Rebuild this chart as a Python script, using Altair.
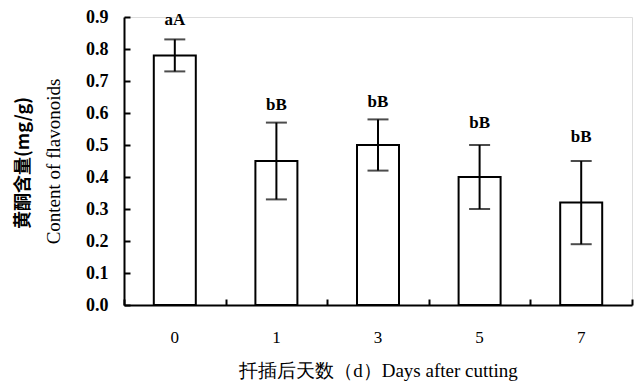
import altair as alt
import pandas as pd

days = ["0", "1", "3", "5", "7"]
means = [0.78, 0.45, 0.50, 0.40, 0.32]
err_low = [0.73, 0.33, 0.42, 0.30, 0.19]
err_high = [0.83, 0.57, 0.58, 0.50, 0.45]
letters = ["aA", "bB", "bB", "bB", "bB"]
label_pos = [0.89, 0.625, 0.634, 0.569, 0.525]

df = pd.DataFrame({
    "day": days, "mean": means, "lo": err_low, "hi": err_high,
    "letter": letters, "lpos": label_pos,
})

SERIF = "Liberation Serif"
xscale = alt.Scale(domain=days, paddingInner=0, paddingOuter=0)
yscale = alt.Scale(domain=[0, 0.9], nice=False, zero=True)
yticks = [i / 10 for i in range(10)]

base = alt.Chart(df)

bars = base.mark_bar(size=42, fill="white", stroke="black", strokeWidth=2).encode(
    x=alt.X("day:N", scale=xscale, sort=days, axis=alt.Axis(
        orient="bottom", title="扦插后天数（d）Days after cutting",
        labelAngle=0, labelFont=SERIF, labelFontSize=17, labelColor="black",
        labelPadding=24, ticks=False, domainColor="black", domainWidth=2,
        titleFont=SERIF, titleFontSize=19, titleFontWeight="normal",
        titleColor="black", titlePadding=16)),
    y=alt.Y("mean:Q", scale=yscale, axis=alt.Axis(
        orient="left", title="Content of flavonoids", values=yticks,
        format=".1f", labelFont=SERIF, labelFontSize=18, labelFontWeight="bold",
        labelColor="black", ticks=False, labelPadding=16, grid=False,
        domainColor="black", domainWidth=2,
        titleFont=SERIF, titleFontSize=19, titleFontWeight="normal",
        titleColor="black", titlePadding=22)),
)

# inward ticks (second pair of axes placed over the first ones)
inner = base.mark_rule(color="black", strokeWidth=2).encode(
    x=alt.X("day:N", scale=xscale, sort=days, axis=alt.Axis(
        orient="top", offset=-288, labels=False, title=None, domain=False,
        tickBand="extent", tickSize=6, tickWidth=2, tickColor="black")),
    y=alt.Y("lo:Q", scale=yscale, axis=alt.Axis(
        orient="right", offset=-508, labels=False, title=None, domain=False,
        values=yticks, tickSize=6, tickWidth=2,
        tickColor="black", grid=False)),
    y2="hi:Q",
)

cap_hi = base.mark_tick(size=21, thickness=2, color="black").encode(
    x=alt.X("day:N", scale=xscale, sort=days, axis=None),
    y=alt.Y("hi:Q", scale=yscale, axis=None),
)
cap_lo = base.mark_tick(size=21, thickness=2, color="black").encode(
    x=alt.X("day:N", scale=xscale, sort=days, axis=None),
    y=alt.Y("lo:Q", scale=yscale, axis=None),
)

labels = base.mark_text(font=SERIF, fontSize=17, fontWeight="bold",
                        color="black", baseline="middle").encode(
    x=alt.X("day:N", scale=xscale, sort=days, axis=None),
    y=alt.Y("lpos:Q", scale=yscale, axis=None),
    text="letter:N",
)

cn_title = alt.Chart(pd.DataFrame({"t": ["黄酮含量(mg/g)"]})).mark_text(
    font="Noto Sans CJK SC", fontSize=18, fontWeight="bold", angle=270,
    color="black", baseline="middle", align="center",
).encode(x=alt.value(-100), y=alt.value(146), text="t:N")

chart = alt.layer(bars, inner, cap_hi, cap_lo, labels, cn_title).resolve_axis(
    x="independent", y="independent"
).properties(
    width=508, height=288,
    autosize=alt.AutoSizeParams(type="none"),
    padding={"left": 116, "top": 9, "right": 2, "bottom": 81},
).configure_view(stroke=None).configure(background="white")

chart.save("out.html", embed_options={"renderer": "svg", "actions": False})
